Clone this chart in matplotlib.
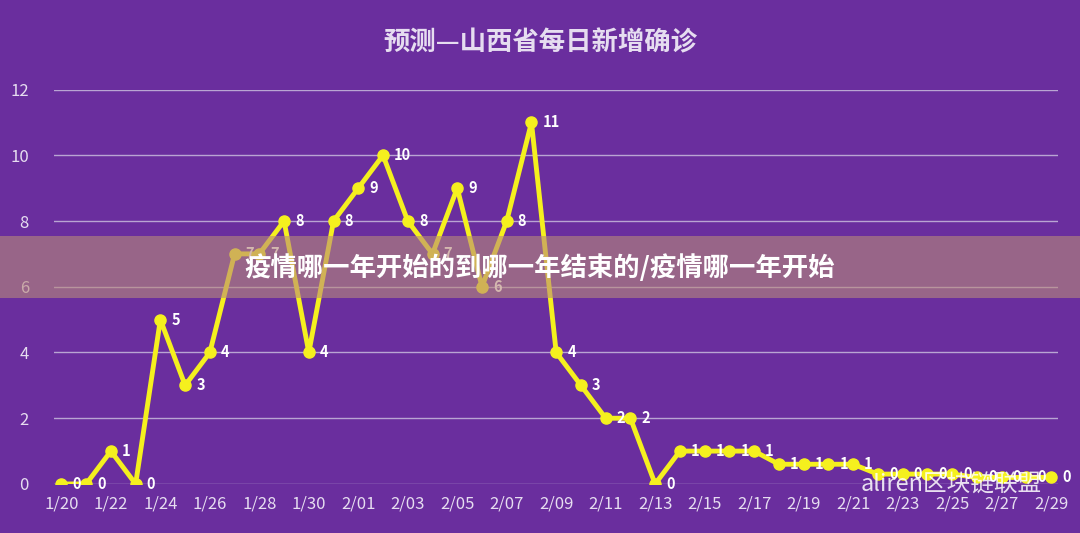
import matplotlib
matplotlib.use("Agg")
import matplotlib.pyplot as plt
from matplotlib.patches import Rectangle
import datetime as dt

plt.rcParams['font.family'] = ['Noto Sans CJK SC', 'DejaVu Sans']

start = dt.date(2020, 1, 20)
dates = [start + dt.timedelta(days=i) for i in range(41)]
values = [0, 0, 1, 0, 5, 3, 4, 7, 7, 8, 4, 8, 9, 10, 8, 7, 9, 6, 8, 11,
          4, 3, 2, 2, 0, 1, 1, 1, 1, 0.6, 0.6, 0.6, 0.6, 0.3, 0.3, 0.3, 0.3,
          0.2, 0.2, 0.2, 0.2]
labels = [f"{d.month}/{d.day}" if d.month == 1 else f"{d.month}/{d.day:02d}" for d in dates]

bg = '#6A2E9E'
fig = plt.figure(figsize=(10.8, 5.33), dpi=100, facecolor=bg)
ax = fig.add_axes([0.05, 0.092, 0.93, 0.74], facecolor=bg)
x = list(range(len(values)))
ax.plot(x, values, color='#F5F01E', lw=3.5, marker='o', ms=8, zorder=3)
for xi, v in zip(x, values):
    ax.text(xi + 0.45, v, f"{round(v)}", color='white', fontsize=10.5,
            fontweight='bold', va='center', ha='left', zorder=4)
ax.set_ylim(0, 12)
ax.set_yticks(range(0, 13, 2))
ax.set_xlim(-0.3, 40.3)
ax.set_xticks(x[::2])
ax.set_xticklabels(labels[::2])
ax.grid(axis='y', color='#B9A5D3', lw=1)
ax.set_axisbelow(True)
for s in ax.spines.values():
    s.set_visible(False)
ax.tick_params(colors='#E6DDF0', labelsize=12, length=0, pad=8)
ax.tick_params(axis='y', pad=18)
fig.text(0.5, 0.92, '预测—山西省每日新增确诊', ha='center', va='center',
         fontsize=19, fontweight='bold', color='#E6DDF0')

fig.patches.append(Rectangle((0, 0.44), 1, 0.118, transform=fig.transFigure,
                             facecolor='#B88A7A', alpha=0.6, zorder=10))
fig.text(0.5, 0.497, '疫情哪一年开始的到哪一年结束的/疫情哪一年开始', ha='center',
         va='center', fontsize=19, fontweight='bold', color='white', zorder=11)
fig.text(0.965, 0.09, 'aliren区块链联盟', ha='right', va='center', fontsize=17,
         color='white', alpha=0.85, zorder=11)
fig.savefig('out.png', dpi=100, facecolor=bg)
